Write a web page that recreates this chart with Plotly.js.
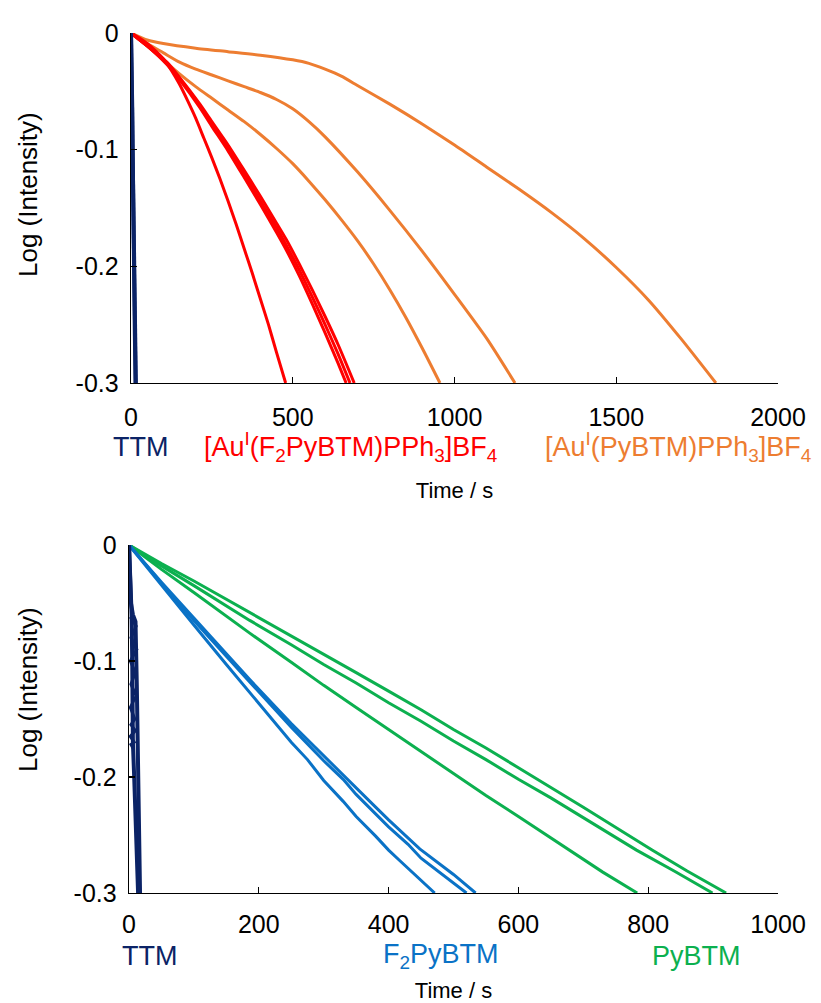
<!DOCTYPE html>
<html>
<head>
<meta charset="utf-8">
<script src="https://cdn.plot.ly/plotly-3.0.1.min.js"></script>
<style>html,body{margin:0;padding:0;background:#fff;}#chart{width:821px;height:1003px;}</style>
</head>
<body>
<div id="chart"></div>
<script>
// ---------- Top panel: Au complexes ----------
const ttmTopT1 = [0, 1, 2, 3, 4, 5, 6, 8, 10, 12, 14];
const ttmTopV1 = [0, -0.012, -0.03, -0.05, -0.066, -0.1, -0.14, -0.18, -0.22, -0.26, -0.3];
const ttmTopT2 = [0, 1, 2, 3, 5, 7, 9, 11, 13, 15];
const ttmTopV2 = [0, -0.02, -0.065, -0.064, -0.11, -0.16, -0.2, -0.24, -0.27, -0.3];

const auF2T1 = [0, 25, 50, 75, 100, 125, 150, 175, 200, 225, 250, 275, 300, 325, 350, 375, 400, 425, 450, 478];
const auF2V1 = [0, -0.004, -0.009, -0.015, -0.022, -0.032, -0.044, -0.058, -0.073, -0.09, -0.107, -0.125, -0.144, -0.164, -0.185, -0.206, -0.228, -0.25, -0.274, -0.3];
const auF2T2 = [0, 50, 111, 150, 213, 250, 300, 346, 400, 450, 480, 520, 560, 600, 640, 665];
const auF2V2 = [0, -0.011, -0.027, -0.04, -0.064, -0.08, -0.101, -0.122, -0.147, -0.171, -0.186, -0.208, -0.232, -0.257, -0.283, -0.3];
const auF2T3 = [0, 50, 111, 150, 213, 250, 300, 346, 400, 450, 480, 520, 560, 600, 640, 677];
const auF2V3 = [0, -0.011, -0.026, -0.039, -0.062, -0.078, -0.099, -0.119, -0.144, -0.167, -0.182, -0.203, -0.226, -0.25, -0.275, -0.3];
const auF2T4 = [0, 50, 111, 150, 213, 250, 300, 346, 400, 450, 480, 520, 560, 600, 640, 690];
const auF2V4 = [0, -0.011, -0.025, -0.038, -0.061, -0.076, -0.096, -0.116, -0.14, -0.163, -0.177, -0.198, -0.22, -0.243, -0.267, -0.3];

const auPyT1 = [0, 50, 100, 150, 200, 250, 300, 350, 400, 450, 500, 550, 600, 650, 700, 750, 800, 850, 900, 955];
const auPyV1 = [0, -0.011, -0.023, -0.035, -0.046, -0.056, -0.066, -0.076, -0.087, -0.099, -0.112, -0.127, -0.143, -0.16, -0.178, -0.198, -0.22, -0.244, -0.27, -0.3];
const auPyT2 = [0, 50, 100, 150, 200, 250, 300, 350, 400, 450, 500, 550, 600, 700, 800, 900, 1000, 1100, 1187];
const auPyV2 = [0, -0.009, -0.017, -0.025, -0.031, -0.036, -0.041, -0.046, -0.051, -0.057, -0.065, -0.076, -0.089, -0.119, -0.152, -0.187, -0.224, -0.262, -0.3];
const auPyT3 = [0, 50, 100, 200, 300, 400, 500, 550, 600, 650, 700, 800, 900, 1000, 1100, 1200, 1300, 1400, 1500, 1600, 1700, 1808];
const auPyV3 = [0, -0.006, -0.009, -0.013, -0.016, -0.019, -0.023, -0.026, -0.031, -0.037, -0.045, -0.061, -0.078, -0.096, -0.115, -0.134, -0.154, -0.176, -0.201, -0.229, -0.262, -0.3];

// ---------- Bottom panel: free radicals ----------
const ttmBotT1 = [0, 2, 4, 5, 6, 8, 11, 14];
const ttmBotV1 = [0, -0.03, -0.06, -0.1, -0.17, -0.2, -0.25, -0.3];
const ttmBotT2 = [0, 3, 6, 9, 10, 12, 13, 14, 15, 17];
const ttmBotV2 = [0, -0.05, -0.06, -0.064, -0.066, -0.12, -0.17, -0.207, -0.24, -0.3];
const ttmBotT3 = [2, 11, 3, 12, 2, 10, 3, 11, 2, 9, 3, 10, 2, 8, 3, 6];
const ttmBotV3 = [-0.062, -0.07, -0.08, -0.09, -0.1, -0.11, -0.12, -0.13, -0.14, -0.15, -0.155, -0.16, -0.165, -0.17, -0.172, -0.175];

const f2T1 = [0, 50, 100, 150, 186, 220, 250, 275, 300, 330, 350, 380, 400, 417, 450, 471];
const f2V1 = [0, -0.035, -0.069, -0.103, -0.127, -0.149, -0.17, -0.185, -0.203, -0.221, -0.234, -0.251, -0.263, -0.272, -0.289, -0.3];
const f2T2 = [0, 50, 100, 150, 186, 250, 300, 330, 350, 400, 430, 450, 500, 520];
const f2V2 = [0, -0.033, -0.065, -0.096, -0.118, -0.157, -0.186, -0.202, -0.215, -0.243, -0.258, -0.27, -0.291, -0.3];
const f2T3 = [0, 50, 100, 150, 186, 250, 300, 350, 380, 400, 448, 500, 534];
const f2V3 = [0, -0.032, -0.063, -0.094, -0.116, -0.154, -0.182, -0.21, -0.226, -0.237, -0.262, -0.284, -0.3];

const pyT1 = [0, 50, 100, 186, 250, 300, 350, 400, 450, 500, 550, 600, 678, 730, 783];
const pyV1 = [0, -0.021, -0.041, -0.076, -0.101, -0.121, -0.14, -0.159, -0.178, -0.197, -0.216, -0.234, -0.263, -0.282, -0.3];
const pyT2 = [0, 50, 100, 186, 250, 300, 350, 400, 450, 500, 550, 600, 650, 700, 782, 840, 899];
const pyV2 = [0, -0.018, -0.035, -0.065, -0.086, -0.103, -0.119, -0.136, -0.152, -0.169, -0.185, -0.202, -0.218, -0.235, -0.263, -0.281, -0.3];
const pyT3 = [0, 50, 100, 186, 250, 300, 350, 400, 450, 500, 550, 600, 650, 700, 806, 860, 920];
const pyV3 = [0, -0.016, -0.031, -0.058, -0.078, -0.094, -0.11, -0.126, -0.142, -0.159, -0.175, -0.192, -0.209, -0.226, -0.263, -0.281, -0.3];

const topTicks = [0, 500, 1000, 1500, 2000];
const botTicks = [0, 200, 400, 600, 800, 1000];
const yTicks = [0, -0.1, -0.2, -0.3];
const yTickText = ['0', '-0.1', '-0.2', '-0.3'];

const C_TTM = '#0b2366', C_RED = '#ff0000', C_ORANGE = '#ed7d31', C_BLUE = '#0a72c6', C_GREEN = '#0cb04f';
const FONT = 'Liberation Sans, Arial, sans-serif';

function tr(x, y, color, axes, w) {
  return {x: x, y: y, mode: 'lines', type: 'scatter', xaxis: axes[0], yaxis: axes[1],
          line: {color: color, width: w || 3, shape: 'spline', smoothing: 0.6}, hoverinfo: 'skip', showlegend: false};
}
function trRaw(x, y, color, axes, w) {
  return {x: x, y: y, mode: 'lines', type: 'scatter', xaxis: axes[0], yaxis: axes[1],
          line: {color: color, width: w || 3}, hoverinfo: 'skip', showlegend: false};
}
const A1 = ['x', 'y'], A2 = ['x2', 'y2'];
const data = [
  tr(auPyT3, auPyV3, C_ORANGE, A1), tr(auPyT2, auPyV2, C_ORANGE, A1), tr(auPyT1, auPyV1, C_ORANGE, A1),
  tr(auF2T2, auF2V2, C_RED, A1), tr(auF2T3, auF2V3, C_RED, A1), tr(auF2T4, auF2V4, C_RED, A1), tr(auF2T1, auF2V1, C_RED, A1),
  trRaw(ttmTopT1, ttmTopV1, C_TTM, A1, 4), trRaw(ttmTopT2, ttmTopV2, C_TTM, A1, 4),
  trRaw(pyT1, pyV1, C_GREEN, A2), trRaw(pyT2, pyV2, C_GREEN, A2), trRaw(pyT3, pyV3, C_GREEN, A2),
  trRaw(f2T1, f2V1, C_BLUE, A2), trRaw(f2T2, f2V2, C_BLUE, A2), trRaw(f2T3, f2V3, C_BLUE, A2),
  trRaw(ttmBotT1, ttmBotV1, C_TTM, A2, 4), trRaw(ttmBotT2, ttmBotV2, C_TTM, A2, 4), trRaw(ttmBotT3, ttmBotV3, C_TTM, A2, 3)
];

const W = 821, H = 1003;
function xax(range, ticks, domLeft, tickStandoff, standoff) {
  return {domain: [domLeft / W, 778 / W], range: range, tickvals: ticks, ticktext: ticks.map(String),
          showline: true, linecolor: '#000', linewidth: 1.3, ticks: 'inside', ticklen: 6, tickwidth: 1.3,
          tickcolor: '#000', showgrid: false, zeroline: false, ticklabelstandoff: tickStandoff,
          tickfont: {family: FONT, size: 25, color: '#000'},
          title: {text: 'Time / s', font: {family: FONT, size: 22, color: '#000'}, standoff: standoff}};
}
function yax(top, bot, anchor) {
  return {domain: [1 - bot / H, 1 - top / H], range: [-0.3, 0], tickvals: yTicks, ticktext: yTickText,
          anchor: anchor, showline: true, linecolor: '#000', linewidth: 1.3, ticks: 'inside', ticklen: 6,
          tickwidth: 1.3, tickcolor: '#000', showgrid: false, zeroline: false, ticklabelstandoff: 6,
          tickfont: {family: FONT, size: 25, color: '#000'}};
}
const labels = [
  {text: 'Log (Intensity)', x: 28, y: 195, color: '#000', size: 26, angle: -90},
  {text: 'Log (Intensity)', x: 28, y: 690, color: '#000', size: 26, angle: -90},
  {text: 'TTM', x: 140, y: 447, color: C_TTM, size: 27},
  {text: '[Au<sup>I</sup>(F<sub>2</sub>PyBTM)PPh<sub>3</sub>]BF<sub>4</sub>', x: 350, y: 447, color: C_RED, size: 27},
  {text: '[Au<sup>I</sup>(PyBTM)PPh<sub>3</sub>]BF<sub>4</sub>', x: 678, y: 447, color: C_ORANGE, size: 27},
  {text: 'TTM', x: 149, y: 956, color: C_TTM, size: 27},
  {text: 'F<sub>2</sub>PyBTM', x: 441, y: 956, color: C_BLUE, size: 27},
  {text: 'PyBTM', x: 696, y: 956, color: C_GREEN, size: 27}
];
const layout = {
  width: W, height: H, margin: {l: 0, r: 0, t: 0, b: 0}, paper_bgcolor: '#fff', plot_bgcolor: '#fff',
  xaxis: Object.assign(xax([0, 2000], topTicks, 131, 12, 52), {anchor: 'y'}),
  yaxis: yax(33, 383, 'x'),
  xaxis2: Object.assign(xax([0, 1000], botTicks, 129, 9, 46), {anchor: 'y2'}),
  yaxis2: yax(545, 893, 'x2'),
  annotations: labels.map(a => ({text: a.text, x: a.x / W, y: 1 - a.y / H, xref: 'paper', yref: 'paper',
               showarrow: false, xanchor: 'center', yanchor: 'middle', textangle: a.angle || 0,
               font: {family: FONT, size: a.size, color: a.color}}))
};
Plotly.newPlot('chart', data, layout, {displayModeBar: false, staticPlot: true});
</script>
</body>
</html>
